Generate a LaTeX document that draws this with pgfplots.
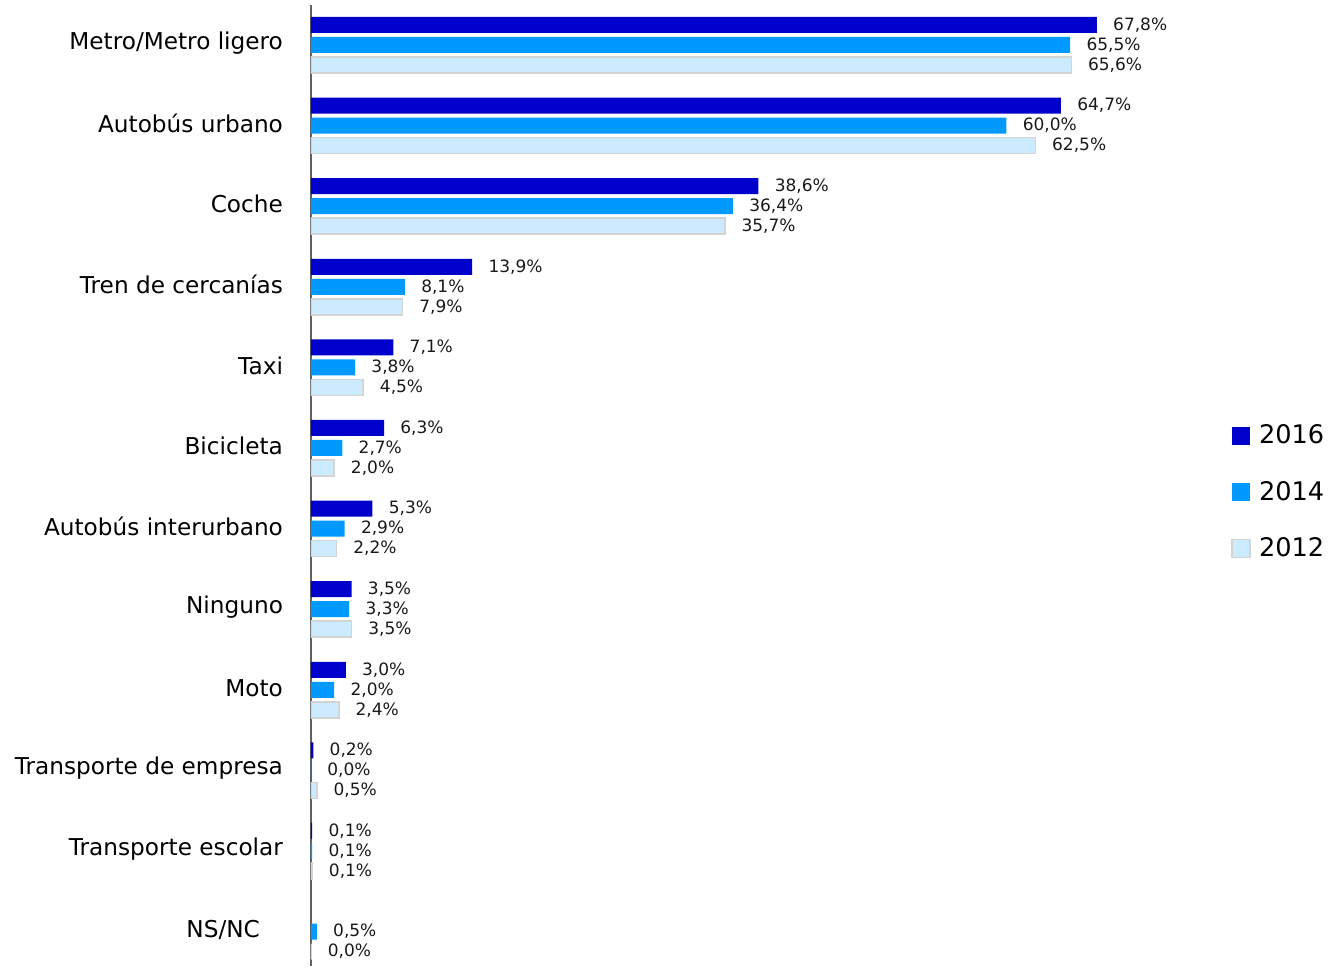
\documentclass[border=0pt]{standalone}
\usepackage{pgfplots}
\pgfplotsset{compat=1.18}
\usepackage{fontspec}
\setmainfont{DejaVu Sans}
\definecolor{c16}{HTML}{0000CC}
\definecolor{c14}{HTML}{0099FF}
\definecolor{c12}{HTML}{CCEBFF}
\definecolor{c12b}{HTML}{D4D4D4}

% one category per row, top to bottom
\pgfplotstableread{
y v16
0 67.8
1 64.7
2 38.6
3 13.9
4 7.1
5 6.3
6 5.3
7 3.5
8 3.0
9 0.2
10 0.1
}\dsixteen
\pgfplotstableread{
y v14
0 65.5
1 60.0
2 36.4
3 8.1
4 3.8
5 2.7
6 2.9
7 3.3
8 2.0
9 0.0
10 0.1
11 0.5
}\dfourteen
\pgfplotstableread{
y v12
0 65.6
1 62.5
2 35.7
3 7.9
4 4.5
5 2.0
6 2.2
7 3.5
8 2.4
9 0.5
10 0.1
11 0.0
}\dtwelve

\begin{document}
\begin{tikzpicture}
\begin{axis}[
    xbar,
    x=5.795pt, y=40.3pt,
    xmin=0, xmax=76, ymin=-0.496, ymax=11.43,
    y dir=reverse,
    axis x line=none, axis y line=left,
    y axis line style={-, draw=gray!75!black, line width=1pt},
    ytick={0,...,11},
    yticklabels={Metro/Metro ligero, Autobús urbano, Coche, Tren de cercanías, Taxi, Bicicleta, Autobús interurbano, Ninguno, Moto, Transporte de empresa, Transporte escolar, NS/NC\hspace*{11.5pt}},
    major tick length=0pt,
    yticklabel style={font=\fontsize{11.6}{14}\selectfont, xshift=-10.5pt, yshift=1pt},
    bar width=8pt,
    nodes near coords={\pgfmathprintnumber[fixed,fixed zerofill,precision=1,use comma,assume math mode=true]{\pgfplotspointmeta}\%},
    nodes near coords style={font=\fontsize{8.5}{10}\selectfont, text=black!90, anchor=west, inner sep=0pt, xshift=8pt},
    legend image code/.code={\fill[#1] (0pt,-4.5pt) rectangle (9pt,4.5pt);},
    legend style={draw=none, fill=none, at={(1.0445,0.568)}, anchor=north west,
        font=\fontsize{12.8}{15}\selectfont, row sep=13.2pt, inner sep=0pt,
        column sep=2pt},
    legend cell align=left,
]
\addplot[fill=c16, draw=none, bar shift=10pt] table[x=v16,y=y] {\dsixteen};
\addlegendentry{2016}
\addplot[fill=c14, draw=none, bar shift=0pt] table[x=v14,y=y] {\dfourteen};
\addlegendentry{2014}
\addplot[fill=c12, draw=c12b, line width=0.8pt, bar shift=-10pt] table[x=v12,y=y] {\dtwelve};
\addlegendentry{2012}
\end{axis}
\path[use as bounding box] ([xshift=-155.5pt,yshift=2.5pt]current axis.north west) rectangle ++(665.5pt,-483pt);
\end{tikzpicture}
\end{document}
